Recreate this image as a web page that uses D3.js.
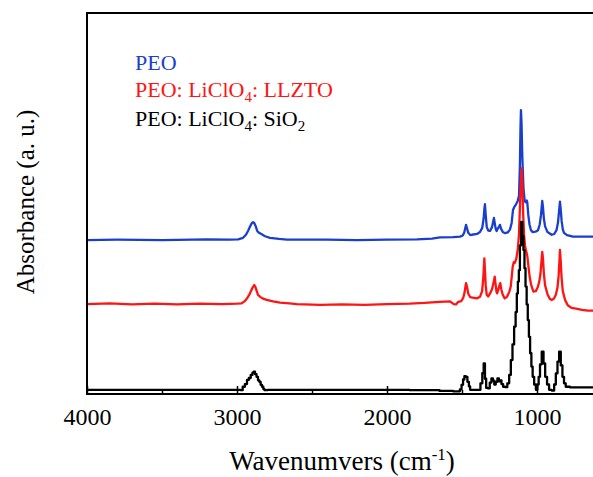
<!DOCTYPE html>
<html>
<head>
<meta charset="utf-8">
<script src="https://cdn.jsdelivr.net/npm/d3@7"></script>
<style>
  body { margin: 0; background: #fff; }
  svg { display: block; }
  text { font-family: "Liberation Serif", "Times New Roman", serif; }
</style>
</head>
<body>
<svg id="chart" width="593" height="477"></svg>
<script>
// [wavenumber (cm-1), absorbance (a.u., offset traces)]
const peoSeries = [
  [4000,40.4],[3800,40.5],[3500,40.4],[3200,40.6],[3050,40.5],[2993,40.6],[2960,41.0],[2940,41.8],[2925,42.9],
  [2910,44.2],[2900,44.9],[2893,45.1],[2885,44.9],[2875,44.0],[2865,42.8],[2853,42.3],[2835,41.9],[2813,41.4],
  [2780,41.0],[2720,40.7],[2667,40.5],[2400,40.5],[2200,40.4],[2000,40.5],[1800,40.6],[1700,40.8],[1647,41.1],
  [1560,41.2],[1513,41.3],[1495,41.6],[1485,42.4],[1478,43.6],[1473,44.4],[1466,43.4],[1458,42.3],[1445,41.7],
  [1435,41.8],[1400,42.0],[1380,42.5],[1365,43.6],[1356,46.0],[1351,48.5],[1347,49.8],[1342,47.0],[1335,43.8],
  [1325,42.9],[1313,42.8],[1300,43.8],[1292,45.3],[1287,46.2],[1281,44.6],[1274,43.2],[1269,42.8],[1260,43.5],
  [1252,44.0],[1247,44.4],[1240,43.4],[1228,42.5],[1213,42.2],[1195,42.4],[1180,43.2],[1169,44.9],[1160,48.3],
  [1150,49.2],[1140,49.8],[1130,50.5],[1120,52],[1114,60],[1110,70],[1107,74.5],[1103,71],[1099,64],[1095,59],
  [1090,54],[1082,50.6],[1074,50.3],[1068,50.8],[1065,50.4],[1058,47.0],[1050,44.5],[1040,43.0],[1030,42.5],
  [1010,42.6],[993,43.0],[982,44.5],[974,46.8],[969,49.0],[965,50.7],[960,49.0],[954,46.0],[946,44.0],[930,42.5],
  [902,41.8],[885,42.0],[870,43.0],[860,45.0],[853,48.0],[847,50.5],[842,48.5],[836,45.5],[828,43.2],[820,42.3],
  [800,41.7],[760,41.3],[700,41.3],[600,41.3]
]

const llztoSeries = [
  [4000,23.6],[3850,23.8],[3700,23.5],[3550,23.7],[3400,23.5],[3250,23.7],[3100,23.6],[3000,23.7],[2969,23.8],
  [2950,24.3],[2935,25.0],[2927,25.5],[2915,26.3],[2905,27.2],[2895,28.0],[2885,28.6],[2878,28.2],[2870,27.2],
  [2860,26.0],[2845,25.5],[2830,25.1],[2802,24.7],[2760,24.3],[2713,24.0],[2650,23.8],[2602,23.6],[2447,23.4],
  [2300,23.5],[2150,23.4],[2000,23.6],[1850,23.7],[1750,23.9],[1650,24.2],[1580,24.3],[1555,23.6],[1540,23.5],
  [1525,24.2],[1505,24.4],[1492,25.2],[1482,26.8],[1476,28.5],[1473,29.1],[1466,28.0],[1458,26.3],[1445,25.4],
  [1430,25.3],[1400,25.1],[1380,25.5],[1366,27.0],[1358,30.5],[1354,33.5],[1351,35.6],[1347,32.5],[1342,28.5],
  [1335,26.0],[1325,25.6],[1313,26.4],[1300,27.5],[1288,29.5],[1282,30.8],[1276,28.8],[1270,26.8],[1266,26.4],
  [1258,27.4],[1250,28.5],[1245,29.1],[1238,27.5],[1228,26.0],[1215,25.1],[1200,25.5],[1185,26.8],[1175,28.2],
  [1168,31.0],[1162,33.4],[1155,34.6],[1148,34.4],[1138,35.5],[1128,38],[1120,42],[1113,50],[1107,56],[1102,59.2],
  [1097,54],[1092,47],[1086,41.5],[1080,39.0],[1074,37.8],[1069,37.0],[1064,36.0],[1057,33.5],[1048,30.5],
  [1038,28.5],[1024,26.9],[1008,27.0],[995,28.0],[985,29.5],[977,31.5],[971,34.5],[965,37.3],[960,35.5],[954,31.5],
  [946,28.5],[930,26.2],[915,25.0],[902,24.7],[888,25.0],[875,26.0],[864,27.8],[856,31.0],[851,34.5],[847,37.8],
  [842,35.0],[836,30.5],[828,27.0],[813,24.7],[795,23.3],[770,22.6],[740,22.4],[700,22.1],[660,21.9],[600,21.9]
]

const sio2Series = [
  [4000,1.1],[3500,1.1],[3050,1.1],[2985,1.1],[2969,1.0],[2955,1.9],[2940,2.6],[2927,3.7],[2915,4.2],[2902,5.0],
  [2892,5.6],[2885,5.85],[2875,5.2],[2865,4.5],[2855,3.6],[2847,3.2],[2838,2.4],[2829,1.9],[2820,1.3],[2813,1.0],
  [2780,1.1],[2500,1.1],[2000,1.1],[1700,1.0],[1600,0.8],[1520,0.7],[1508,1.2],[1498,2.4],[1488,3.8],[1480,4.7],
  [1470,4.5],[1458,3.2],[1450,2.0],[1442,1.1],[1420,1.1],[1385,1.1],[1369,2.8],[1360,5.5],[1351,8.0],[1343,4.0],
  [1335,1.6],[1320,1.5],[1310,3.0],[1298,4.1],[1290,3.5],[1280,2.5],[1270,3.2],[1258,4.1],[1250,3.3],[1242,3.6],
  [1232,2.6],[1220,1.9],[1205,1.8],[1191,2.8],[1180,5.0],[1169,8.9],[1158,13],[1147,17.7],[1138,21.5],[1131,26.4],
  [1124,29.5],[1118,32.5],[1110,39],[1102,45.2],[1094,41.5],[1087,37.8],[1080,33],[1073,28.2],[1065,23.5],
  [1058,19.4],[1050,15],[1042,10.7],[1033,7.2],[1025,4.5],[1013,2.5],[1002,1.1],[993,2.5],[985,4.5],[975,7.8],
  [962,11.1],[951,8],[940,4.5],[926,2.5],[913,1.1],[891,0.9],[880,2.5],[869,5.4],[858,8.5],[847,11.1],[836,7.5],
  [825,4.5],[815,2.8],[802,1.9],[760,1.75],[600,1.75]
]

const seriesNames = ['PEO', 'PEO: LiClO_4: LLZTO', 'PEO: LiClO_4: SiO_2']
const seriesColors = ['#1a3fcc', '#ff1414', '#000000']
const majorTicks = [4000, 3000, 2000, 1000]
const minorTicks = [3500, 2500, 1500]

const serif = '"Liberation Serif", "Times New Roman", serif'
const svg = d3.select('#chart')
const margin = { left: 87, top: 13, bottom: 394, right: 597 }

const x = d3.scaleLinear().domain([4000, 600]).range([margin.left, margin.right])
const y = d3.scaleLinear().domain([0, 100]).range([margin.bottom, margin.top])

const smoothLine = d3.line()
  .x(d => x(d[0]))
  .y(d => y(d[1]))
// the SiO2 spectrum was recorded at a coarser step, so it is drawn as steps
const stepLine = d3.line()
  .x(d => x(d[0]))
  .y(d => y(d[1]))
  .curve(d3.curveStep)

/* --------- TRACES --------- */
const traces = [peoSeries, llztoSeries, sio2Series]
svg.append('g')
  .selectAll('path')
  .data(traces)
  .join('path')
  .attr('fill', 'none')
  .attr('stroke', (d, i) => seriesColors[i])
  .attr('stroke-width', 2.3)
  .attr('stroke-linejoin', 'round')
  .attr('d', (d, i) => i === 2 ? stepLine(d) : smoothLine(d))

/* --------- FRAME & AXES --------- */
svg.append('rect')
  .attr('x', margin.left)
  .attr('y', margin.top)
  .attr('width', margin.right - margin.left)
  .attr('height', margin.bottom - margin.top)
  .attr('fill', 'none')
  .attr('stroke', '#000')
  .attr('stroke-width', 2)

const xAxis = svg.append('g')
  .attr('transform', `translate(0,${margin.bottom})`)
  .call(d3.axisBottom(x).tickValues(majorTicks).tickSize(-8).tickPadding(14).tickFormat(d3.format('d')))
xAxis.select('.domain').remove()
xAxis.selectAll('.tick line').attr('stroke-width', 1.5)
xAxis.selectAll('.tick text')
  .style('font-family', serif)
  .style('font-size', '24px')
  .attr('fill', '#000')

const xMinor = svg.append('g')
  .attr('transform', `translate(0,${margin.bottom})`)
  .call(d3.axisBottom(x).tickValues(minorTicks).tickSize(-4).tickFormat(''))
xMinor.select('.domain').remove()
xMinor.selectAll('.tick line').attr('stroke-width', 1.5)

/* --------- LABELS --------- */
const xLabel = svg.append('text')
  .attr('x', 342)
  .attr('y', 470)
  .attr('text-anchor', 'middle')
  .style('font-size', '27px')
xLabel.append('tspan').text('Wavenumvers (cm')
xLabel.append('tspan').attr('dy', -10).style('font-size', '17px').text('-1')
xLabel.append('tspan').attr('dy', 10).text(')')

svg.append('text')
  .attr('transform', 'translate(34,202) rotate(-90)')
  .attr('text-anchor', 'middle')
  .style('font-size', '25px')
  .text('Absorbance (a. u.)')

/* --------- LEGEND --------- */
const legendY = [70, 97, 126]
seriesNames.forEach((name, i) => {
  const t = svg.append('text')
    .attr('x', 135)
    .attr('y', legendY[i])
    .style('font-size', '22px')
    .attr('fill', seriesColors[i])
  name.split(/_(\d)/).forEach((part, j) => {
    if (j % 2 === 1) {
      t.append('tspan').attr('dy', 5).style('font-size', '15px').text(part)
    } else if (part) {
      t.append('tspan').attr('dy', j > 0 ? -5 : 0).text(part)
    }
  })
})
</script>
</body>
</html>
